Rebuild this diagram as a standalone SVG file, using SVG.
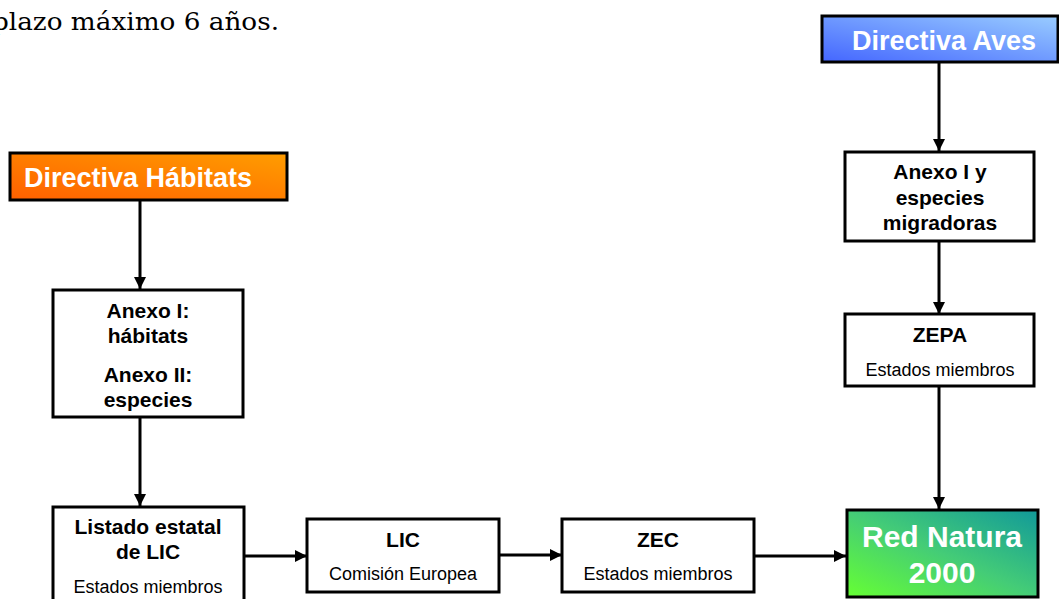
<svg xmlns="http://www.w3.org/2000/svg" width="1059" height="599" viewBox="0 0 1059 599">
<style>
.box{fill:#fff;stroke:#000;stroke-width:3}
.b{font-family:"Liberation Sans",Arial,sans-serif;font-weight:bold;font-size:21px;fill:#000;text-anchor:middle}
.r{font-family:"Liberation Sans",Arial,sans-serif;font-size:18px;fill:#000;text-anchor:middle}
.w{font-family:"Liberation Sans",Arial,sans-serif;font-weight:bold;fill:#fff}
.c{stroke:#000;stroke-width:3;fill:none;marker-end:url(#ah)}
</style>
<defs>
<marker id="ah" viewBox="0 0 10 10" refX="10" refY="5" markerWidth="4" markerHeight="4" orient="auto" markerUnits="strokeWidth">
<path d="M0,0 L10,5 L0,10 z" fill="#000"/>
</marker>
<linearGradient id="gOr" x1="0" y1="1" x2="1" y2="0">
<stop offset="0" stop-color="#ff6000"/>
<stop offset="1" stop-color="#ff9d00"/>
</linearGradient>
<linearGradient id="gBl" x1="0" y1="1" x2="1" y2="0">
<stop offset="0" stop-color="#4466ff"/>
<stop offset="1" stop-color="#99ccff"/>
</linearGradient>
<linearGradient id="gGr" x1="0" y1="1" x2="1" y2="0">
<stop offset="0" stop-color="#66ff33"/>
<stop offset="0.5" stop-color="#44cc77"/>
<stop offset="1" stop-color="#119999"/>
</linearGradient>
</defs>
<text x="-8" y="30" font-family="'DejaVu Serif','Liberation Serif',serif" font-size="25" textLength="287" lengthAdjust="spacingAndGlyphs" fill="#000">plazo máximo 6 años.</text>
<g id="connectors">
<line class="c" x1="140" y1="201" x2="140" y2="289"/>
<line class="c" x1="140" y1="417" x2="140" y2="506"/>
<line class="c" x1="244" y1="556" x2="307" y2="556"/>
<line class="c" x1="499" y1="555" x2="562" y2="555"/>
<line class="c" x1="754" y1="556" x2="846" y2="556"/>
<line class="c" x1="939" y1="63" x2="939" y2="151"/>
<line class="c" x1="939" y1="241" x2="939" y2="314"/>
<line class="c" x1="939" y1="386" x2="939" y2="509"/>
</g>
<g id="directiva-habitats">
<rect x="10" y="153" width="277" height="47" fill="url(#gOr)" stroke="#000" stroke-width="3"/>
<text class="w" x="24" y="187" font-size="27">Directiva Hábitats</text>
</g>
<g id="directiva-aves">
<rect x="822" y="16" width="236" height="46" fill="url(#gBl)" stroke="#000" stroke-width="3"/>
<text class="w" x="852" y="50" font-size="27">Directiva Aves</text>
</g>
<g id="anexo-habitats">
<rect class="box" x="53" y="290" width="190" height="127"/>
<text class="b" x="148" y="318">Anexo I:</text>
<text class="b" x="148" y="343">hábitats</text>
<text class="b" x="148" y="382">Anexo II:</text>
<text class="b" x="148" y="407">especies</text>
</g>
<g id="listado">
<rect class="box" x="53" y="507" width="191" height="96"/>
<text class="b" x="148" y="534">Listado estatal</text>
<text class="b" x="148" y="559">de LIC</text>
<text class="r" x="148" y="593">Estados miembros</text>
</g>
<g id="lic">
<rect class="box" x="307" y="519" width="192" height="73"/>
<text class="b" x="403" y="547">LIC</text>
<text class="r" x="403" y="580">Comisión Europea</text>
</g>
<g id="zec">
<rect class="box" x="562" y="519" width="192" height="73"/>
<text class="b" x="658" y="547">ZEC</text>
<text class="r" x="658" y="580">Estados miembros</text>
</g>
<g id="anexo-aves">
<rect class="box" x="845" y="152" width="189" height="89"/>
<text class="b" x="940" y="179">Anexo I y</text>
<text class="b" x="940" y="205">especies</text>
<text class="b" x="940" y="230">migradoras</text>
</g>
<g id="zepa">
<rect class="box" x="845" y="314" width="189" height="72"/>
<text class="b" x="940" y="342">ZEPA</text>
<text class="r" x="940" y="376">Estados miembros</text>
</g>
<g id="red-natura">
<rect x="847" y="510" width="191" height="87" fill="url(#gGr)" stroke="#000" stroke-width="3"/>
<text class="w" x="942" y="547" font-size="30" text-anchor="middle">Red Natura</text>
<text class="w" x="942" y="583" font-size="30" text-anchor="middle">2000</text>
</g>
</svg>
